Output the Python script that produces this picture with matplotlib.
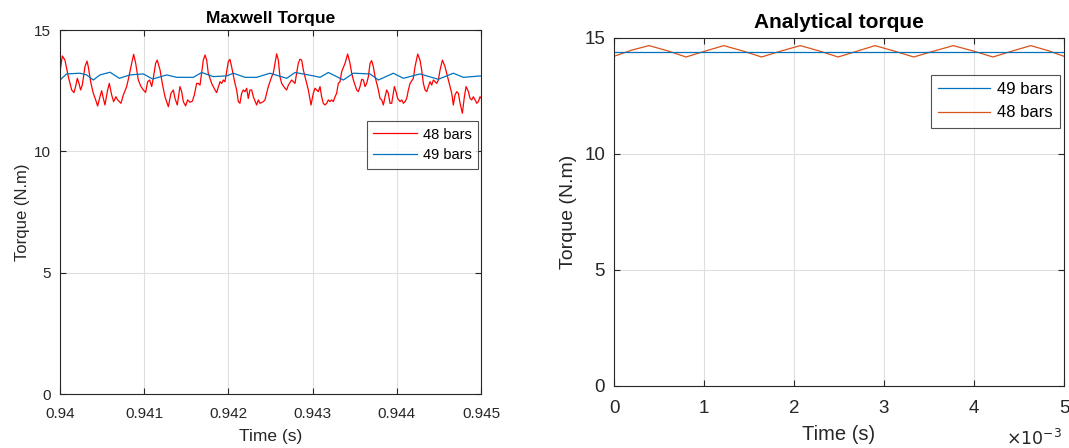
import matplotlib
matplotlib.use('Agg')
import matplotlib.pyplot as plt

plt.rcParams['font.family'] = ['Liberation Sans', 'DejaVu Sans']

# --- Maxwell torque (time in ms after 0.94 s) ---
t48_ms = [0.000, 0.028, 0.059, 0.099, 0.139, 0.166, 0.186, 0.206, 0.226, 0.245,
          0.265, 0.297, 0.321, 0.336, 0.368, 0.396, 0.424, 0.447, 0.475, 0.495,
          0.515, 0.534, 0.566, 0.586, 0.614, 0.637, 0.665, 0.685, 0.705, 0.724,
          0.752, 0.792, 0.819, 0.843, 0.875, 0.899, 0.930, 0.962, 0.990, 1.017,
          1.041, 1.065, 1.089, 1.108, 1.136, 1.155, 1.188, 1.215, 1.247, 1.287,
          1.318, 1.346, 1.366, 1.393, 1.425, 1.445, 1.465, 1.492, 1.516, 1.544,
          1.572, 1.595, 1.623, 1.643, 1.663, 1.682, 1.702, 1.722, 1.742, 1.761,
          1.801, 1.841, 1.860, 1.900, 1.920, 1.940, 1.959, 1.999, 2.019, 2.038,
          2.078, 2.098, 2.118, 2.137, 2.157, 2.177, 2.197, 2.217, 2.236, 2.256,
          2.276, 2.296, 2.335, 2.355, 2.375, 2.415, 2.434, 2.454, 2.474, 2.514,
          2.533, 2.553, 2.573, 2.593, 2.612, 2.632, 2.672, 2.692, 2.712, 2.751,
          2.771, 2.791, 2.810, 2.830, 2.850, 2.870, 2.890, 2.909, 2.949, 2.981,
          3.008, 3.028, 3.048, 3.068, 3.088, 3.107, 3.127, 3.147, 3.167, 3.187,
          3.206, 3.226, 3.246, 3.266, 3.285, 3.305, 3.325, 3.345, 3.385, 3.416,
          3.444, 3.464, 3.484, 3.523, 3.543, 3.563, 3.583, 3.603, 3.622, 3.642,
          3.662, 3.682, 3.701, 3.721, 3.741, 3.761, 3.781, 3.800, 3.820, 3.840,
          3.860, 3.880, 3.899, 3.919, 3.939, 3.971, 3.990, 4.010, 4.038, 4.058,
          4.078, 4.097, 4.117, 4.137, 4.157, 4.196, 4.216, 4.248, 4.275, 4.295,
          4.315, 4.335, 4.355, 4.374, 4.394, 4.414, 4.434, 4.473, 4.493, 4.513,
          4.541, 4.572, 4.612, 4.652, 4.671, 4.691, 4.711, 4.731, 4.751, 4.778,
          4.802, 4.822, 4.850, 4.869, 4.889, 4.909, 4.929, 4.949, 4.968, 4.988,
          5.000]
tq48 = [13.28, 13.93, 13.76, 13.08, 12.53, 12.42, 12.67, 13.01, 12.80, 12.53,
        12.73, 13.49, 13.72, 13.49, 12.80, 12.39, 12.12, 11.87, 12.25, 12.50,
        12.18, 11.91, 12.53, 12.80, 12.32, 12.05, 12.25, 12.12, 12.05, 11.98,
        12.32, 12.67, 13.08, 13.49, 14.00, 13.63, 12.94, 12.67, 12.53, 12.43,
        12.87, 12.94, 12.67, 13.01, 13.63, 13.76, 13.36, 12.80, 12.25, 11.84,
        12.39, 12.53, 12.18, 11.91, 12.67, 12.46, 12.05, 11.87, 12.12, 12.02,
        12.07, 12.32, 12.80, 12.80, 12.73, 13.22, 13.76, 13.97, 13.76, 13.22,
        12.80, 12.53, 12.42, 12.87, 12.80, 12.94, 12.87, 13.70, 13.79, 13.49,
        12.80, 12.53, 12.05, 11.98, 12.39, 12.53, 12.46, 12.60, 12.18, 12.53,
        12.53, 12.25, 11.91, 12.12, 11.98, 12.05, 12.12, 12.39, 12.67, 13.08,
        13.22, 13.63, 14.02, 13.76, 13.08, 12.80, 12.60, 12.53, 12.73, 12.94,
        12.87, 12.80, 13.22, 13.63, 13.80, 13.76, 13.35, 13.08, 12.53, 11.91,
        12.39, 12.60, 12.53, 12.46, 12.67, 12.25, 11.98, 11.91, 11.98, 12.12,
        12.05, 12.12, 12.05, 12.25, 12.39, 12.80, 12.87, 13.28, 13.63, 14.01,
        13.63, 13.22, 12.94, 12.53, 12.46, 12.67, 12.97, 12.94, 12.67, 12.80,
        13.08, 13.63, 13.74, 13.49, 13.08, 12.80, 12.53, 12.18, 12.12, 11.91,
        12.25, 12.53, 12.39, 11.98, 11.98, 12.67, 12.46, 12.18, 12.05, 12.12,
        11.98, 12.05, 12.18, 12.53, 12.80, 13.01, 13.49, 14.01, 13.76, 13.35,
        12.80, 12.53, 12.46, 12.67, 12.87, 12.73, 12.94, 12.80, 12.94, 13.35,
        13.76, 13.49, 12.94, 12.39, 11.91, 12.32, 12.46, 12.39, 11.98, 11.57,
        12.25, 12.67, 12.46, 12.18, 12.12, 12.25, 12.12, 11.98, 12.05, 12.25,
        12.20]

t49_ms = [0.000, 0.079, 0.238, 0.317, 0.396, 0.475, 0.594, 0.705, 0.831, 0.990,
          1.101, 1.267, 1.386, 1.584, 1.683, 1.821, 1.979, 2.059, 2.197, 2.336,
          2.494, 2.692, 2.791, 3.009, 3.088, 3.187, 3.365, 3.484, 3.682, 3.781,
          3.959, 4.078, 4.276, 4.493, 4.671, 4.790, 5.000]
tq49 = [12.94, 13.19, 13.22, 13.15, 12.94, 13.15, 13.26, 13.01, 13.15, 13.19,
        12.98, 13.15, 13.05, 13.05, 13.25, 13.08, 13.11, 13.22, 13.05, 13.05,
        13.22, 13.01, 13.25, 13.11, 13.05, 13.25, 12.94, 13.22, 13.19, 12.94,
        13.22, 13.01, 13.19, 12.97, 13.22, 13.05, 13.11]

# --- Analytical torque (time in ms) ---
ta48_ms = [0.00, 0.20, 0.39, 0.60, 0.80, 1.01, 1.22, 1.43, 1.64, 1.85,
           2.07, 2.28, 2.49, 2.70, 2.90, 3.11, 3.33, 3.55, 3.77, 3.99,
           4.21, 4.42, 4.63, 4.82, 5.00]
ta48 = [14.20, 14.47, 14.66, 14.43, 14.17, 14.42, 14.66, 14.43, 14.17, 14.42,
        14.66, 14.43, 14.17, 14.42, 14.66, 14.43, 14.17, 14.42, 14.66, 14.43,
        14.17, 14.42, 14.66, 14.45, 14.20]
ta49_ms = [0.0, 5.0]
ta49 = [14.37, 14.37]

BLUE = '#0072BD'
ORANGE = '#D95319'
INK = '#262626'


def style_axes(ax, fs, xpad, ypad):
    ax.set_ylim(0, 15)
    ax.set_yticks([0, 5, 10, 15])
    ax.grid(True, color='#DFDFDF', linewidth=0.8)
    ax.set_axisbelow(True)
    ax.tick_params(direction='in', top=True, right=True, labelsize=fs,
                   colors=INK, length=4, width=0.8)
    ax.tick_params(axis='x', pad=xpad)
    ax.tick_params(axis='y', pad=ypad)
    for s in ax.spines.values():
        s.set_color(INK)
        s.set_linewidth(0.8)


fig = plt.figure(figsize=(10.69, 4.48), dpi=100)

# left: Maxwell torque
ax1 = fig.add_axes([0.0561, 0.1205, 0.3939, 0.8125])
x48 = [0.94 + t / 1000 for t in t48_ms]
x49 = [0.94 + t / 1000 for t in t49_ms]
ax1.plot(x48, tq48, color='#FF0000', linewidth=0.9, label='48 bars')
ax1.plot(x49, tq49, color=BLUE, linewidth=0.9, label='49 bars')
ax1.set_xlim(0.94, 0.945)
xt = [0.94, 0.941, 0.942, 0.943, 0.944, 0.945]
ax1.set_xticks(xt)
ax1.set_xticklabels(['0.94', '0.941', '0.942', '0.943', '0.944', '0.945'])
style_axes(ax1, 11, 9, 6.5)
ax1.set_xlabel('Time (s)', fontsize=12.5, color=INK, labelpad=6)
ax1.set_ylabel('Torque (N.m)', fontsize=12, color=INK, labelpad=3)
ax1.set_title('Maxwell Torque', fontsize=12.5, fontweight='bold', color='black', pad=5)
leg1 = ax1.legend(loc='upper right', bbox_to_anchor=(0.993, 0.75), fontsize=10.5,
                  frameon=True, fancybox=False, edgecolor=INK, handlelength=3.0,
                  borderpad=0.45, labelspacing=0.45, handletextpad=0.4, borderaxespad=0)
leg1.get_frame().set_linewidth(0.8)

# right: Analytical torque
ax2 = fig.add_axes([0.5744, 0.1384, 0.4209, 0.7774])
l48, = ax2.plot(ta48_ms, ta48, color=ORANGE, linewidth=0.9, label='48 bars')
l49, = ax2.plot(ta49_ms, ta49, color=BLUE, linewidth=0.9, label='49 bars')
ax2.set_xlim(0, 5)
ax2.set_xticks([0, 1, 2, 3, 4, 5])
style_axes(ax2, 13.5, 10, 6.5)
ax2.set_xlabel('Time (s)', fontsize=14.5, color=INK, labelpad=6)
ax2.set_ylabel('Torque (N.m)', fontsize=14, color=INK, labelpad=5)
ax2.set_title('Analytical torque', fontsize=15, fontweight='bold', color='black', pad=7)
ax2.text(0.995, -0.168, r'$\times10^{-3}$', transform=ax2.transAxes, ha='right',
         va='baseline', fontsize=12.5, color=INK)
leg2 = ax2.legend(handles=[l49, l48], loc='upper right', bbox_to_anchor=(0.991, 0.894),
                  fontsize=12, frameon=True, fancybox=False, edgecolor=INK,
                  handlelength=3.1, borderpad=0.45, labelspacing=0.5, handletextpad=0.4,
                  borderaxespad=0)
leg2.get_frame().set_linewidth(0.8)

fig.savefig('out.png', dpi=100, facecolor='white')
